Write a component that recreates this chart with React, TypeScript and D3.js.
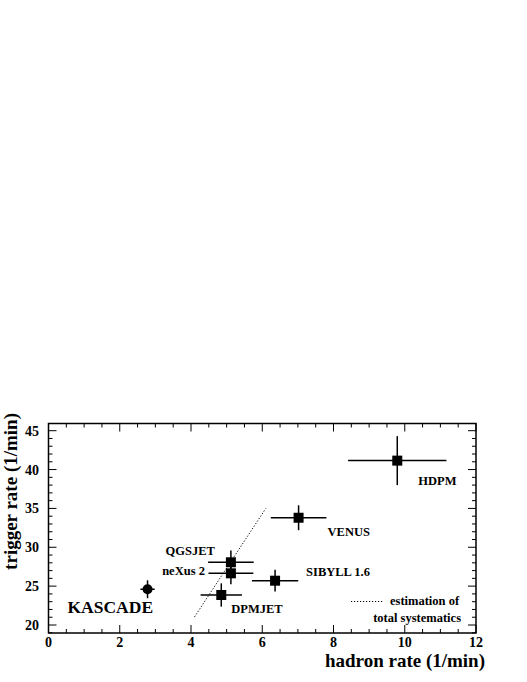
import React from 'react';
import * as d3 from 'd3';

const models = ['QGSJET', 'neXus 2', 'DPMJET', 'SIBYLL 1.6', 'VENUS', 'HDPM'];
const hadronRate = [5.12, 5.12, 4.85, 6.36, 7.02, 9.79];
const hadronErr = [0.64, 0.63, 0.58, 0.65, 0.78, 1.38];
const triggerRate = [28.07, 26.65, 23.86, 25.7, 33.8, 41.15];
const triggerErr = [1.5, 1.4, 1.5, 1.4, 1.6, 3.15];

const kascadeX = [2.78];
const kascadeXErr = [0.2];
const kascadeY = [24.6];
const kascadeYErr = [1.15];

const sysLineX = [4.1, 6.1];
const sysLineY = [21.05, 35.0];

const xMajorTicks = [0, 2, 4, 6, 8, 10, 12];
const yMajorTicks = [20, 25, 30, 35, 40, 45];

const W = 527, H = 682;
const L = 48.5, R = 476, T = 423.5, B = 633;
const FONT = '"Liberation Serif", "Times New Roman", serif';

// label placement: [dx, dy, anchor]
const labelPos: [number, number, string][] = [
  [-16, -7, 'end'],
  [-26, 2, 'end'],
  [10, 18, 'start'],
  [31, -5, 'start'],
  [29, 18, 'start'],
  [21, 24, 'start'],
];

export default function App() {
  const x = d3.scaleLinear().domain([0, 12]).range([L, R]);
  const y = d3.scaleLinear().domain([20, 45]).range([625, 430.7]);
  const xMinor = d3.range(0, 12.01, 0.5);
  const yMinor = d3.range(19, 46.01, 1).filter(v => y(v) >= T - 0.1 && y(v) <= B + 0.1);
  const line = d3.line<number>().x((_, i) => x(sysLineX[i])).y((_, i) => y(sysLineY[i]));
  const sq = 10;
  return (
    <svg width={W} height={H} style={{ position: 'absolute', left: 0, top: 0, background: '#fff' }}>
      <rect x={0} y={0} width={W} height={H} fill="#fff" />
      {/* ticks */}
      <g stroke="#000" strokeWidth={1}>
        {xMinor.map(v => {
          const major = Math.abs(v % 2) < 1e-6;
          const len = major ? 8 : 4;
          return (
            <g key={'xt' + v}>
              <line x1={x(v)} x2={x(v)} y1={B} y2={B - len} />
              <line x1={x(v)} x2={x(v)} y1={T} y2={T + len} />
            </g>
          );
        })}
        {yMinor.map(v => {
          const major = Math.abs(v % 5) < 1e-6;
          const len = major ? 8 : 4;
          return (
            <g key={'yt' + v}>
              <line x1={L} x2={L + len} y1={y(v)} y2={y(v)} />
              <line x1={R} x2={R - len} y1={y(v)} y2={y(v)} />
            </g>
          );
        })}
      </g>
      <rect x={L} y={T} width={R - L} height={B - T} fill="none" stroke="#000" strokeWidth={1.5} />
      {/* tick labels */}
      <g fontFamily={FONT} fontWeight="bold" fontSize={14} fill="#000">
        {xMajorTicks.map(v => (
          <text key={'xl' + v} x={x(v)} y={647} textAnchor="middle">{v}</text>
        ))}
        {yMajorTicks.map(v => (
          <text key={'yl' + v} x={39} y={y(v) + 5} textAnchor="end">{v}</text>
        ))}
      </g>
      {/* axis titles */}
      <text x={R + 9} y={667} textAnchor="end" fontFamily={FONT} fontWeight="bold" fontSize={19}>hadron rate (1/min)</text>
      <text transform={`translate(17,413) rotate(-90)`} textAnchor="end" fontFamily={FONT} fontWeight="bold" fontSize={19}>trigger rate (1/min)</text>
      {/* systematics line */}
      <path d={line([0, 1]) || ''} fill="none" stroke="#000" strokeWidth={1} strokeDasharray="1.2,1.8" />
      {/* model points */}
      <g stroke="#000" strokeWidth={1.5}>
        {models.map((m, i) => (
          <g key={m}>
            <line x1={x(hadronRate[i] - hadronErr[i])} x2={x(hadronRate[i] + hadronErr[i])} y1={y(triggerRate[i])} y2={y(triggerRate[i])} />
            <line x1={x(hadronRate[i])} x2={x(hadronRate[i])} y1={y(triggerRate[i] - triggerErr[i])} y2={y(triggerRate[i] + triggerErr[i])} />
            <rect x={x(hadronRate[i]) - sq / 2} y={y(triggerRate[i]) - sq / 2} width={sq} height={sq} fill="#000" stroke="none" />
          </g>
        ))}
        <line x1={x(kascadeX[0] - kascadeXErr[0])} x2={x(kascadeX[0] + kascadeXErr[0])} y1={y(kascadeY[0])} y2={y(kascadeY[0])} />
        <line x1={x(kascadeX[0])} x2={x(kascadeX[0])} y1={y(kascadeY[0] - kascadeYErr[0])} y2={y(kascadeY[0] + kascadeYErr[0])} />
        <circle cx={x(kascadeX[0])} cy={y(kascadeY[0])} r={5} fill="#000" stroke="none" />
      </g>
      {/* labels */}
      <g fontFamily={FONT} fontWeight="bold" fontSize={12.5} fill="#000">
        {models.map((m, i) => (
          <text key={'lab' + m} x={x(hadronRate[i]) + labelPos[i][0]} y={y(triggerRate[i]) + labelPos[i][1]} textAnchor={labelPos[i][2] as any}>{m}</text>
        ))}
      </g>
      <text x={67.5} y={613} fontFamily={FONT} fontWeight="bold" fontSize={17.5}>KASCADE</text>
      {/* legend */}
      <line x1={351} x2={383} y1={601.5} y2={601.5} stroke="#000" strokeWidth={1} strokeDasharray="1.2,1.8" />
      <text x={390} y={605} fontFamily={FONT} fontWeight="bold" fontSize={12.5}>estimation of</text>
      <text x={461} y={622} textAnchor="end" fontFamily={FONT} fontWeight="bold" fontSize={12.5}>total systematics</text>
    </svg>
  );
}
